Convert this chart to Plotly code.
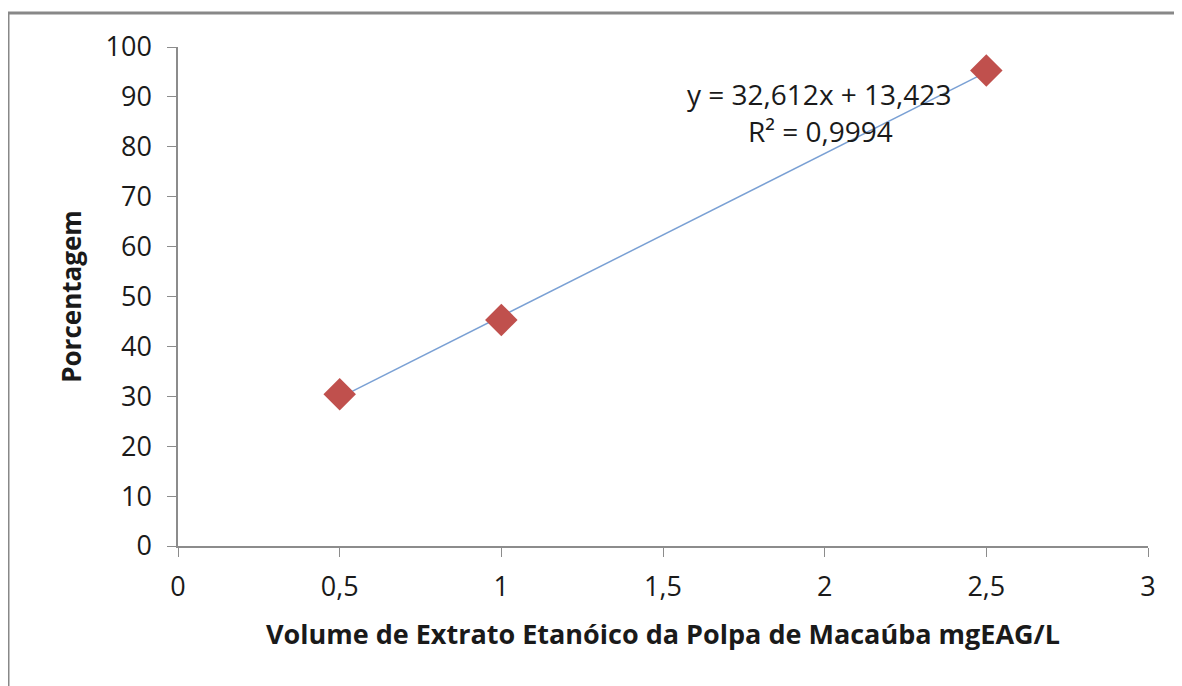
import plotly.graph_objects as go

x_vals = [0.5, 1.0, 2.5]
y_vals = [30.4, 45.3, 95.3]
slope = 32.612
intercept = 13.423
eq_text = "y = 32,612x + 13,423"
r2_text = "R² = 0,9994"
x_ticks = [0, 0.5, 1, 1.5, 2, 2.5, 3]
x_ticktext = ["0", "0,5", "1", "1,5", "2", "2,5", "3"]
y_ticks = [0, 10, 20, 30, 40, 50, 60, 70, 80, 90, 100]
x_title = "Volume de Extrato Etanóico da Polpa de Macaúba mgEAG/L"
y_title = "Porcentagem"

OFF = 8  # page body margin
W, H = 1182 - OFF, 686 - OFF
L, T = 178 - OFF, 47 - OFF
pw, ph = 970, 499
R, B = W - L - pw, H - T - ph

def px(xp):
    return (xp - OFF - L) / pw

def py(yp):
    return (H - B - (yp - OFF)) / ph

FONT = "Open Sans"
TXT = "#1a1a1a"
fig = go.Figure()
tx = [min(x_vals), max(x_vals)]
ty = [slope * v + intercept for v in tx]
fig.add_trace(go.Scatter(x=tx, y=ty, mode="lines",
                         line=dict(color="#7aa0d4", width=1.5), showlegend=False))
fig.add_trace(go.Scatter(x=x_vals, y=y_vals, mode="markers",
                         marker=dict(symbol="diamond", size=25, color="#c0504d"),
                         showlegend=False))

fig.add_annotation(x=px(819), y=py(94), xref="paper", yref="paper", text=eq_text,
                   xanchor="center", yanchor="middle",
                   showarrow=False, font=dict(family=FONT, size=28, color=TXT))
fig.add_annotation(x=px(820), y=py(131), xref="paper", yref="paper", text=r2_text,
                   xanchor="center", yanchor="middle",
                   showarrow=False, font=dict(family=FONT, size=28, color=TXT))

# outer border
fig.add_shape(type="line", xref="paper", yref="paper", x0=px(8), x1=px(8), y0=py(12), y1=py(720),
              line=dict(color="#888888", width=3))
fig.add_shape(type="line", xref="paper", yref="paper", x0=px(7), x1=px(1220), y0=py(13), y1=py(13),
              line=dict(color="#888888", width=3))

fig.update_layout(
    width=W, height=H,
    margin=dict(l=L, r=R, t=T, b=B),
    paper_bgcolor="white", plot_bgcolor="white",
    font=dict(family=FONT, color=TXT),
    xaxis=dict(range=[0, 3], tickvals=x_ticks, ticktext=x_ticktext,
               showgrid=False, zeroline=False, showline=True, linecolor="#8c8c8c", linewidth=1.5,
               ticks="outside", ticklen=9, tickcolor="#8c8c8c", tickfont=dict(size=27),
               ticklabelstandoff=7,
               title=dict(text="<b>" + x_title + "</b>", font=dict(size=27), standoff=22)),
    yaxis=dict(range=[0, 100], tickvals=y_ticks, showgrid=False, zeroline=False,
               showline=True, linecolor="#8c8c8c", linewidth=1.5,
               ticks="outside", ticklen=9, tickcolor="#8c8c8c", tickfont=dict(size=27),
               ticklabelstandoff=10,
               title=dict(text="<b>" + y_title + "</b>", font=dict(size=26), standoff=16)),
)
fig.write_html("out.html")
